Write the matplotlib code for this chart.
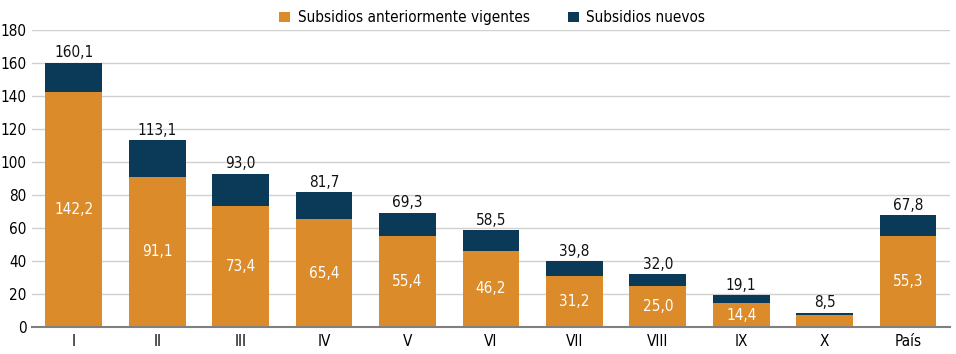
import matplotlib
import numpy as np

matplotlib.use("Agg")
import matplotlib.pyplot as plt

plt.rcParams["font.family"] = ["DejaVu Sans"]
plt.rcParams["font.stretch"] = "condensed"

regions = ["I", "II", "III", "IV", "V", "VI", "VII", "VIII", "IX", "X", "País"]
previous = [142.2, 91.1, 73.4, 65.4, 55.4, 46.2, 31.2, 25.0, 14.4, 7.3, 55.3]
totals = [160.1, 113.1, 93.0, 81.7, 69.3, 58.5, 39.8, 32.0, 19.1, 8.5, 67.8]
base_labels = ["142,2", "91,1", "73,4", "65,4", "55,4", "46,2", "31,2", "25,0", "14,4", "", "55,3"]
total_labels = ["160,1", "113,1", "93,0", "81,7", "69,3", "58,5", "39,8", "32,0", "19,1", "8,5", "67,8"]
new = np.array(totals) - np.array(previous)

orange = "#DC8B2A"
navy = "#0A3A58"

fig = plt.figure(figsize=(9.56, 3.54), dpi=100)
ax = fig.add_axes([0.0335, 0.0763, 0.96, 0.839])
x = np.arange(len(regions))
ax.bar(x, previous, width=0.68, color=orange, label="Subsidios anteriormente vigentes", zorder=2)
ax.bar(x, new, bottom=previous, width=0.68, color=navy, label="Subsidios nuevos", zorder=2)

for xi, base, total, bl, tl in zip(x, previous, totals, base_labels, total_labels):
    if bl:
        ax.text(xi, base / 2, bl, ha="center", va="center", color="white", fontsize=11, zorder=3)
    ax.text(xi, total + 1.5, tl, ha="center", va="bottom", color="#111111", fontsize=11,
            fontweight="medium", zorder=3)

ax.set_xlim(-0.5, len(regions) - 0.5)
ax.set_ylim(0, 180)
ax.set_yticks(np.arange(0, 181, 20))
ax.set_xticks(x)
ax.set_xticklabels(regions)
ax.tick_params(axis="both", length=0, labelsize=11)
ax.tick_params(axis="y", pad=4)
ax.tick_params(axis="x", pad=5)
ax.grid(axis="y", color="#D0D0D0", linewidth=1, zorder=0)
for side in ("top", "right", "left"):
    ax.spines[side].set_visible(False)
ax.spines["bottom"].set_color("#808080")
ax.spines["bottom"].set_linewidth(1.5)
ax.spines["bottom"].set_zorder(4)

fig.legend(loc="upper center", bbox_to_anchor=(0.515, 1.01), ncol=2, frameon=False,
           fontsize=11, handlelength=0.7, handleheight=0.7, columnspacing=2.5, handletextpad=0.5)

fig.savefig("out.png", dpi=100)
